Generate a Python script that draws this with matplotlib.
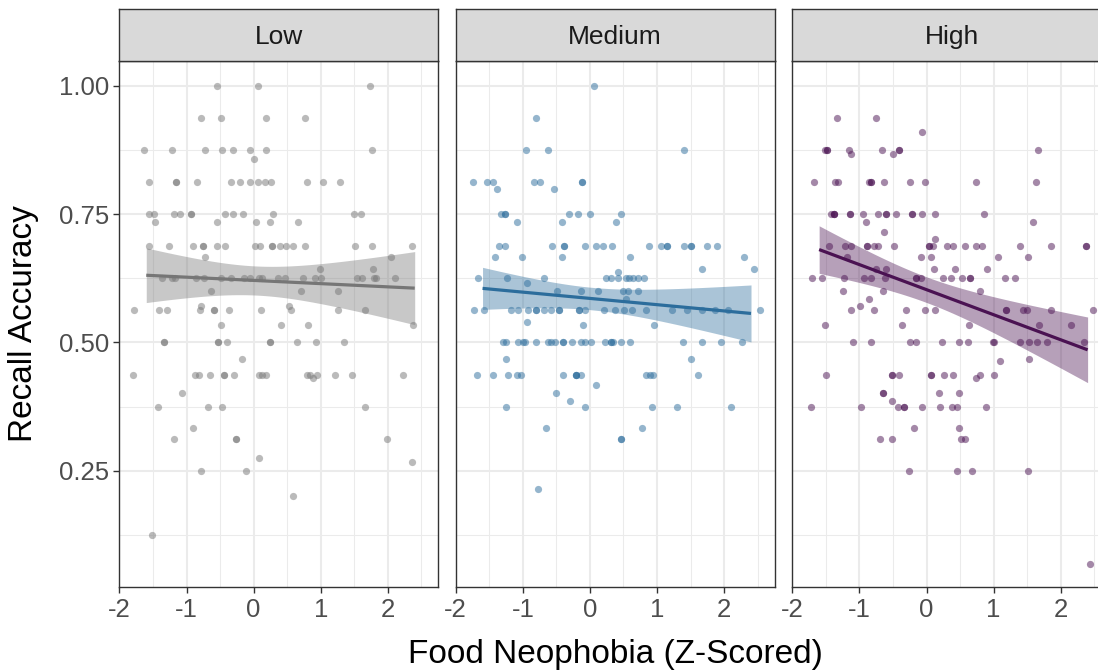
import numpy as np
import matplotlib
matplotlib.use("Agg")
import matplotlib.pyplot as plt
from matplotlib.ticker import FixedLocator

plt.rcParams['font.family'] = ['Liberation Sans', 'DejaVu Sans']

# ---------------------------------------------------------------------------
# Data: recall accuracy levels and the (jittered) neophobia scores observed
# at each level, one pair of lists per condition.
# ---------------------------------------------------------------------------
conditions = ["Low", "Medium", "High"]

low_acc = [1.0, 0.9375, 0.875, 0.858, 0.8125, 0.75, 0.7345, 0.6875, 0.6675,
           0.644, 0.625, 0.601, 0.571, 0.5625, 0.534, 0.5, 0.4675, 0.4375,
           0.4305, 0.401, 0.375, 0.334, 0.3125, 0.274, 0.267, 0.25, 0.201,
           0.125]
low_neo = [
    [-0.55, 0.07, 1.74],
    [-0.79, -0.49, 0.18, 0.77],
    [-1.64, -1.22, -0.72, -0.47, -0.30, -0.06, 0.19, 1.77],
    [0.01],
    [-1.56, -1.16, -1.16, -0.84, -0.34, -0.21, -0.05, 0.07, 0.17, 0.26, 0.79,
     1.03, 1.28],
    [-1.56, -1.48, -1.18, -1.09, -0.93, -0.93, -0.43, -0.30, -0.16, 0.29,
     1.50, 1.60],
    [-1.47, -0.55, 0.03, 0.24, 0.66],
    [-1.56, -1.26, -0.90, -0.76, -0.76, -0.54, -0.43, 0.02, 0.09, 0.27, 0.27,
     0.39, 0.48, 0.58, 0.76, 1.51, 1.77, 2.36],
    [-0.72, 2.04],
    [0.99, 1.78],
    [-1.36, -1.22, -1.17, -0.86, -0.74, -0.49, -0.34, -0.14, -0.06, 0.08,
     0.12, 0.36, 0.46, 0.74, 0.92, 1.01, 1.54, 1.61, 1.79, 1.82, 2.10],
    [-0.63, 0.70, 1.25],
    [-0.78, 0.53],
    [-1.78, -1.41, -1.29, -0.80, -0.59, -0.59, -0.37, 0.11, 0.55, 1.25, 1.66],
    [-0.49, 0.41, 0.81, 2.37],
    [-1.33, -1.33, -0.53, -0.53, -0.39, 0.24, 0.24, 0.65, 0.93, 1.34],
    [-0.17],
    [-1.80, -0.88, -0.81, -0.65, -0.44, -0.44, -0.29, 0.08, 0.13, 0.19, 0.79,
     0.84, 0.95, 1.21, 1.46, 2.22],
    [0.89],
    [-1.06],
    [-1.42, -0.68, -0.47, 1.66],
    [-0.90],
    [-1.18, -0.26, -0.26, 1.98],
    [0.08],
    [2.36],
    [-0.79, -0.12],
    [0.59],
    [-1.51],
]

medium_acc = [1.0, 0.9375, 0.875, 0.8125, 0.80, 0.75, 0.7345, 0.6875, 0.6675,
              0.644, 0.638, 0.625, 0.616, 0.601, 0.584, 0.5625, 0.539, 0.534,
              0.5, 0.4675, 0.4375, 0.4175, 0.402, 0.386, 0.375, 0.334,
              0.3125, 0.215]
medium_neo = [
    [0.06],
    [-0.80],
    [-0.96, -0.62, 1.40],
    [-1.74, -1.53, -1.45, -0.83, -0.74, -0.12, -0.12],
    [-1.39, -0.53],
    [-1.33, -1.26, -1.26, -0.31, -0.18, 0.00, 0.46],
    [-1.09, -0.42, 0.39],
    [-1.35, -1.26, -0.56, -0.39, -0.39, -0.07, 0.09, 0.20, 0.33, 0.88, 1.06,
     1.15, 1.15, 1.40, 1.50, 1.50, 1.74, 1.89],
    [-1.42, -1.01, -0.41, 0.59, 2.29],
    [1.67, 2.44],
    [0.42],
    [-1.67, -1.23, -0.69, 0.24, 0.32, 0.42, 0.54, 0.58, 0.64, 0.71, 0.80],
    [-0.94],
    [-0.49, -0.13, 0.12, 0.49, 0.57, 0.72],
    [0.54],
    [-1.72, -1.58, -1.17, -1.07, -0.93, -0.81, -0.81, -0.68, -0.58, -0.46,
     -0.46, -0.17, -0.17, -0.08, 0.21, 0.37, 0.51, 0.63, 0.83, 1.22, 1.44,
     1.67, 1.86, 2.06, 2.54],
    [-0.94],
    [-0.11, 0.96],
    [-1.29, -1.25, -1.07, -0.99, -0.97, -0.81, -0.62, -0.58, -0.52, -0.40,
     -0.40, -0.27, -0.14, -0.07, 0.01, 0.23, 0.31, 0.31, 0.35, 0.47, 0.59,
     1.39, 1.67, 1.95, 2.27],
    [-1.25, 1.50],
    [-1.68, -1.44, -1.22, -1.08, -1.03, -0.40, -0.21, -0.21, -0.21, -0.13,
     0.84, 0.90, 0.94, 1.61],
    [0.09],
    [-0.51],
    [-0.29],
    [-1.25, -0.07, 0.92, 1.30, 2.10],
    [-0.66, 0.78],
    [0.47, 0.47],
    [-0.78],
]

high_acc = [0.9375, 0.910, 0.875, 0.868, 0.8125, 0.75, 0.7345, 0.715, 0.7013,
            0.6875, 0.6675, 0.644, 0.625, 0.601, 0.584, 0.572, 0.5625, 0.534,
            0.5, 0.4675, 0.4637, 0.4375, 0.4305, 0.402, 0.386, 0.375, 0.334,
            0.3125, 0.25, 0.068]
high_neo = [
    [-1.34, -0.75],
    [-0.07],
    [-1.52, -1.49, -1.49, -1.15, -0.67, -0.41, -0.41, 1.66],
    [-1.13, -0.50],
    [-1.67, -1.36, -1.32, -0.85, -0.83, -0.83, -0.63, -0.25, -0.02, 0.73,
     1.63],
    [-1.43, -1.38, -1.38, -1.38, -1.14, -1.14, -0.94, -0.73, -0.61, -0.61,
     -0.45, -0.22, -0.22, -0.07, 0.12, 0.85],
    [-0.90, 1.58],
    [-0.63],
    [0.12],
    [-1.46, -1.21, -1.13, -0.88, -0.88, -0.79, -0.73, -0.49, 0.03, 0.03, 0.09,
     0.30, 0.40, 0.58, 0.73, 0.82, 1.39, 1.85, 2.37, 2.37],
    [-1.18, -0.08, 0.07, 1.06, 1.51],
    [-0.76, -0.60, 0.11, 0.42, 0.90],
    [-1.71, -1.56, -1.23, -0.93, -0.83, -0.62, -0.15, -0.15, -0.08, 0.24,
     0.37, 0.53, 0.65, 0.65, 1.17, 1.32],
    [-1.25, -0.65, 0.80],
    [-0.86],
    [-0.99],
    [-1.13, -0.79, -0.31, -0.03, 0.12, 1.19, 1.19, 1.43, 1.49, 1.86, 2.48],
    [-1.52, -0.37, 0.63, 1.68, 2.15],
    [-1.10, -0.82, -0.25, -0.16, 0.23, 0.49, 0.62, 0.99, 1.01, 1.40, 1.52,
     1.64, 1.80, 2.34],
    [1.53],
    [1.09],
    [-1.50, -0.52, -0.52, -0.41, 0.06, 0.06, 0.26, 0.39, 0.80, 1.01],
    [0.73],
    [-0.65, -0.65, 0.19, 0.48],
    [-0.52],
    [-1.72, -0.97, -0.42, -0.34, -0.34, -0.07, 0.20, 0.38, 0.45, 0.89],
    [-0.18, 0.48],
    [-0.69, -0.52, 0.51, 0.58],
    [-0.26, 0.46, 0.68, 1.51],
    [2.44],
]

# range of neophobia scores before jitter (span of the fitted line)
neo_range = [-1.60, 2.40]

colors = ["#767676", "#2c6d9c", "#4a1252"]

x_ticks = [-2, -1, 0, 1, 2]
x_tick_labels = ["-2", "-1", "0", "1", "2"]
y_ticks = [0.25, 0.50, 0.75, 1.00]
y_tick_labels = ["0.25", "0.50", "0.75", "1.00"]


def flatten(acc, neo):
    xs, ys = [], []
    for level, scores in zip(acc, neo):
        xs.extend(scores)
        ys.extend([level] * len(scores))
    return np.array(xs), np.array(ys)


def lm_band(x, y, lo, hi, n_out=80, tcrit=1.98):
    slope, intercept = np.polyfit(x, y, 1)
    n = len(x)
    resid = y - (intercept + slope * x)
    s = np.sqrt(np.sum(resid ** 2) / (n - 2))
    xs = np.linspace(lo, hi, n_out)
    sxx = np.sum((x - x.mean()) ** 2)
    se = s * np.sqrt(1.0 / n + (xs - x.mean()) ** 2 / sxx)
    fit = intercept + slope * xs
    return xs, fit, fit - tcrit * se, fit + tcrit * se


panel_data = [flatten(low_acc, low_neo),
              flatten(medium_acc, medium_neo),
              flatten(high_acc, high_neo)]

# ---------------------------------------------------------------------------
# Layout (pixel based, figure is 1098 x 671)
# ---------------------------------------------------------------------------
W, H = 1098, 671
fig = plt.figure(figsize=(W / 100, H / 100), dpi=100)
fig.patch.set_facecolor("white")

panel_lefts = [119.4, 455.7, 792.3]
panel_w = 318.8
panel_top, panel_bottom = 61.0, 587.3
strip_top = 9.0

border = "#333333"
grid_col = "#ebebeb"

for i, (cond, (px, py), col) in enumerate(zip(conditions, panel_data, colors)):
    left = panel_lefts[i]
    ax = fig.add_axes([left / W, (H - panel_bottom) / H, panel_w / W,
                       (panel_bottom - panel_top) / H])
    ax.set_xlim(-2.0, 2.75)
    ax.set_ylim(0.0228, 1.0487)

    ax.xaxis.set_major_locator(FixedLocator(x_ticks))
    ax.xaxis.set_minor_locator(FixedLocator([-1.5, -0.5, 0.5, 1.5, 2.5]))
    ax.yaxis.set_major_locator(FixedLocator(y_ticks))
    ax.yaxis.set_minor_locator(FixedLocator([0.125, 0.375, 0.625, 0.875]))
    ax.set_xticklabels(x_tick_labels)
    ax.grid(which="major", color=grid_col, lw=1.5)
    ax.grid(which="minor", color=grid_col, lw=0.75)
    ax.set_axisbelow(True)

    ax.tick_params(axis="both", which="minor", length=0)
    ax.tick_params(axis="x", which="major", length=4.5, width=1.0,
                   color=border, labelcolor="#4d4d4d", labelsize=18.5, pad=3)
    if i == 0:
        ax.set_yticklabels(y_tick_labels)
        ax.tick_params(axis="y", which="major", length=4.5, width=1.0,
                       color=border, labelcolor="#4d4d4d", labelsize=18.5,
                       pad=3)
    else:
        ax.tick_params(axis="y", which="major", length=0, labelleft=False)

    for sp in ax.spines.values():
        sp.set_color(border)
        sp.set_linewidth(1.0)
        sp.set_zorder(5)

    # observations
    ax.scatter(px, py, s=27, color=col, alpha=0.5, linewidths=0, zorder=2)

    # linear fit with 95% confidence band
    xs, fit, lo, hi = lm_band(px, py, neo_range[0], neo_range[1])
    ax.fill_between(xs, lo, hi, color=col, alpha=0.4, linewidth=0, zorder=3)
    ax.plot(xs, fit, color=col, lw=2.3, zorder=4, solid_capstyle="butt")

    # facet strip
    sax = fig.add_axes([left / W, (H - panel_top) / H, panel_w / W,
                        (panel_top - strip_top) / H])
    sax.set_facecolor("#d9d9d9")
    sax.set_xticks([])
    sax.set_yticks([])
    for sp in sax.spines.values():
        sp.set_color(border)
        sp.set_linewidth(1.0)
    sax.text(0.5, 0.46, cond, transform=sax.transAxes, ha="center",
             va="center", fontsize=19, color="#1a1a1a")

fig.text(615 / W, (H - 663.3) / H, "Food Neophobia (Z-Scored)", ha="center",
         va="baseline", fontsize=24, color="black")
fig.text(31.7 / W, (H - 324) / H, "Recall Accuracy", rotation=90,
         rotation_mode="anchor", ha="center", va="baseline", fontsize=24,
         color="black")

fig.savefig("out.png", dpi=100)
